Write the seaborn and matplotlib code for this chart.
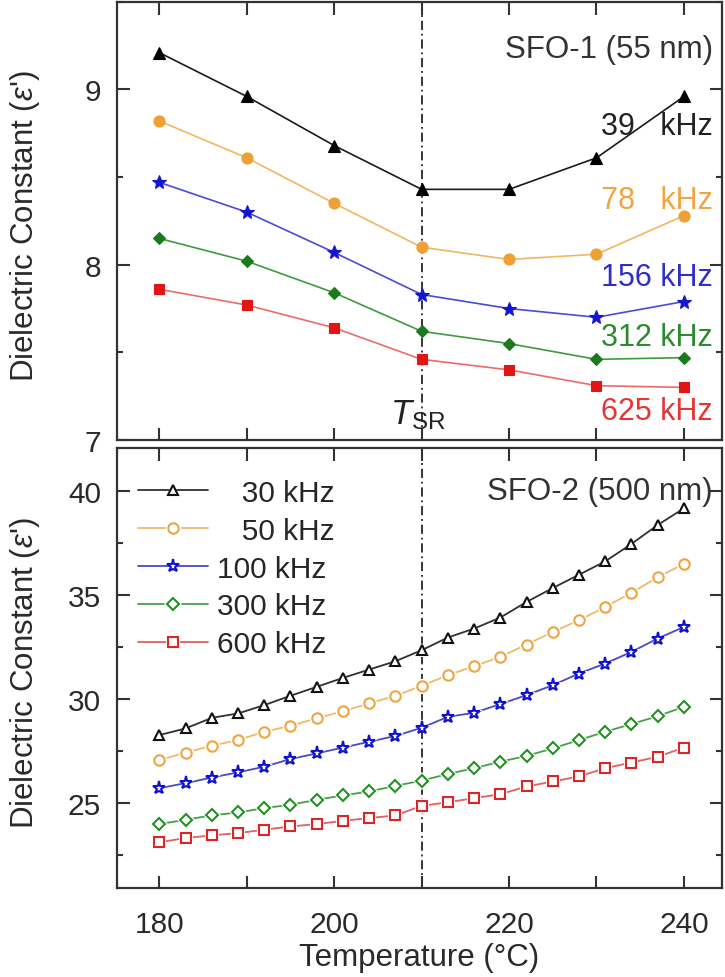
import pandas as pd
import matplotlib
matplotlib.use('Agg')
import matplotlib.pyplot as plt
from matplotlib.ticker import MultipleLocator
from matplotlib.lines import Line2D
from matplotlib.legend_handler import HandlerTuple
import seaborn as sns

sns.set_theme(style="ticks")
plt.rcParams['font.family'] = ['Liberation Sans', 'DejaVu Sans']
plt.rcParams['mathtext.fontset'] = 'custom'
plt.rcParams['mathtext.rm'] = 'Liberation Sans'
plt.rcParams['mathtext.it'] = 'Liberation Sans:italic'

# SFO-1 (55 nm) data
temp_1 = [180, 190, 200, 210, 220, 230, 240]
eps_39k = [9.21, 8.96, 8.68, 8.43, 8.43, 8.61, 8.96]
eps_78k = [8.82, 8.61, 8.35, 8.10, 8.03, 8.06, 8.28]
eps_156k = [8.47, 8.30, 8.07, 7.83, 7.75, 7.70, 7.79]
eps_312k = [8.15, 8.02, 7.84, 7.62, 7.55, 7.46, 7.47]
eps_625k = [7.86, 7.77, 7.64, 7.46, 7.40, 7.31, 7.30]
labels_1 = ['39   kHz', '78   kHz', '156 kHz', '312 kHz', '625 kHz']
label_y_1 = [8.79, 8.37, 7.93, 7.585, 7.165]

# SFO-2 (500 nm) data
temp_2 = [180, 183, 186, 189, 192, 195, 198, 201, 204, 207, 210,
          213, 216, 219, 222, 225, 228, 231, 234, 237, 240]
eps_30k = [28.25, 28.57, 29.08, 29.29, 29.69, 30.14, 30.57, 31.00, 31.40, 31.80, 32.33,
           32.94, 33.37, 33.90, 34.65, 35.32, 35.96, 36.60, 37.44, 38.35, 39.15]
eps_50k = [27.05, 27.41, 27.74, 28.01, 28.41, 28.70, 29.05, 29.40, 29.77, 30.14, 30.62,
           31.13, 31.56, 32.01, 32.60, 33.21, 33.77, 34.41, 35.09, 35.84, 36.48]
eps_100k = [25.70, 25.94, 26.21, 26.46, 26.73, 27.10, 27.37, 27.65, 27.93, 28.21, 28.60,
            29.13, 29.32, 29.74, 30.17, 30.65, 31.21, 31.69, 32.25, 32.89, 33.45]
eps_300k = [23.97, 24.18, 24.39, 24.53, 24.74, 24.90, 25.14, 25.35, 25.54, 25.81, 26.06,
            26.38, 26.66, 26.97, 27.25, 27.61, 28.01, 28.41, 28.78, 29.16, 29.61]
eps_600k = [23.10, 23.30, 23.43, 23.54, 23.70, 23.86, 23.97, 24.13, 24.26, 24.39, 24.85,
            25.02, 25.22, 25.41, 25.78, 26.02, 26.26, 26.66, 26.93, 27.21, 27.65]
labels_2 = ['   30 kHz', '   50 kHz', '100 kHz', '300 kHz', '600 kHz']

t_sr = 210

top_series = [eps_39k, eps_78k, eps_156k, eps_312k, eps_625k]
top_markers = ['^', 'o', '*', 'D', 's']
top_msize = [8, 8, 10, 6.5, 7]
top_line_col = ['#1a1a1a', '#f3b660', '#4a4ad8', '#3f9a3f', '#ec6a6a']
top_mark_col = ['#000000', '#eea035', '#1515d0', '#1c7a1c', '#e01515']
top_text_col = ['#222222', '#f0a540', '#2f2fc8', '#2e8a2e', '#e53535']

bot_series = [eps_30k, eps_50k, eps_100k, eps_300k, eps_600k]
bot_markers = ['^', 'o', '*', 'D', 's']
bot_msize = [7, 7.5, 9.5, 6, 6.5]
bot_line_col = ['#303030', '#f1b868', '#4848c8', '#45a045', '#e26060']
bot_mark_col = ['#111111', '#eea540', '#1010d0', '#229022', '#dd2525']

fig = plt.figure(figsize=(7.25, 9.78), dpi=100)
ax1 = fig.add_axes([0.1607, 0.5491, 0.8345, 0.4480])
ax2 = fig.add_axes([0.1607, 0.0910, 0.8345, 0.4499])

for i, vals in enumerate(top_series):
    df = pd.DataFrame({'T': temp_1, 'eps': vals})
    sns.lineplot(data=df, x='T', y='eps', ax=ax1, estimator=None, color=top_line_col[i],
                 lw=1.2, marker=top_markers[i], markersize=top_msize[i],
                 markerfacecolor=top_mark_col[i], markeredgecolor=top_mark_col[i],
                 markeredgewidth=0.8)

# bottom: line, then white halo, then open marker (gives the gap around each marker)
handles = []
for i, vals in enumerate(bot_series):
    df = pd.DataFrame({'T': temp_2, 'eps': vals})
    sns.lineplot(data=df, x='T', y='eps', ax=ax2, estimator=None, color=bot_line_col[i], lw=1.3)
    halo = dict(marker=bot_markers[i], ls='none', markersize=bot_msize[i] + 3.5,
                markerfacecolor='white', markeredgecolor='white', markeredgewidth=0)
    mark = dict(marker=bot_markers[i], ls='none', markersize=bot_msize[i],
                markerfacecolor='white', markeredgecolor=bot_mark_col[i], markeredgewidth=1.5)
    ax2.plot(temp_2, vals, **halo)
    ax2.plot(temp_2, vals, **mark)
    handles.append((Line2D([], [], color=bot_line_col[i], lw=1.3),
                    Line2D([], [], **halo), Line2D([], [], **mark)))

for ax in (ax1, ax2):
    ax.axvline(t_sr, color='black', lw=1.1, linestyle=(0, (6, 2.5, 1.2, 2.5)), zorder=0)
    ax.set_xlim(175.1, 244.3)
    ax.xaxis.set_major_locator(MultipleLocator(20))
    ax.xaxis.set_minor_locator(MultipleLocator(10))
    ax.tick_params(axis='both', which='both', direction='in', top=True, right=True,
                   labelsize=21.5, width=1.5, color='#333333', labelcolor='#2a2a2a')
    ax.tick_params(axis='x', which='both', length=9, pad=16)
    ax.tick_params(axis='y', which='major', length=9, pad=11)
    ax.tick_params(axis='y', which='minor', length=4.5)
    for s in ax.spines.values():
        s.set_linewidth(1.6)
        s.set_color('#333333')
    ax.set_ylabel("Dielectric Constant ($\\mathit{\\varepsilon}$')", fontsize=22.5, color='#2a2a2a')
    ax.yaxis.set_label_coords(-0.123, 0.49)

ax1.set_ylim(7, 9.5)
ax1.yaxis.set_major_locator(MultipleLocator(1))
ax1.yaxis.set_minor_locator(MultipleLocator(0.5))
ax1.tick_params(axis='x', labelbottom=False)
ax1.set_xlabel('')

ax2.set_ylim(20.9, 42.05)
ax2.yaxis.set_major_locator(MultipleLocator(5))
ax2.yaxis.set_minor_locator(MultipleLocator(2.5))
ax2.set_xlabel('Temperature (°C)', fontsize=22.5, color='#2a2a2a')
ax2.xaxis.set_label_coords(0.5, -0.122)

ax1.text(243.3, 9.23, 'SFO-1 (55 nm)', fontsize=22.5, color='#333333', ha='right', va='center')
for lab, ly, col in zip(labels_1, label_y_1, top_text_col):
    ax1.text(243.3, ly, lab, fontsize=22, color=col, ha='right', va='center')
ax1.text(206.4, 7.05, '$T_{\\mathrm{SR}}$', fontsize=25, color='#222222', ha='left', va='bottom')

ax2.text(243.3, 40.0, 'SFO-2 (500 nm)', fontsize=22.5, color='#333333', ha='right', va='center')
ax2.legend(handles, labels_2, handler_map={tuple: HandlerTuple(ndivide=1)},
           loc='upper left', bbox_to_anchor=(0.036, 0.93), frameon=False, fontsize=21.5,
           handlelength=2.35, handletextpad=0.3, labelspacing=0.33, borderaxespad=0, borderpad=0)

fig.savefig('out.png', dpi=100)
